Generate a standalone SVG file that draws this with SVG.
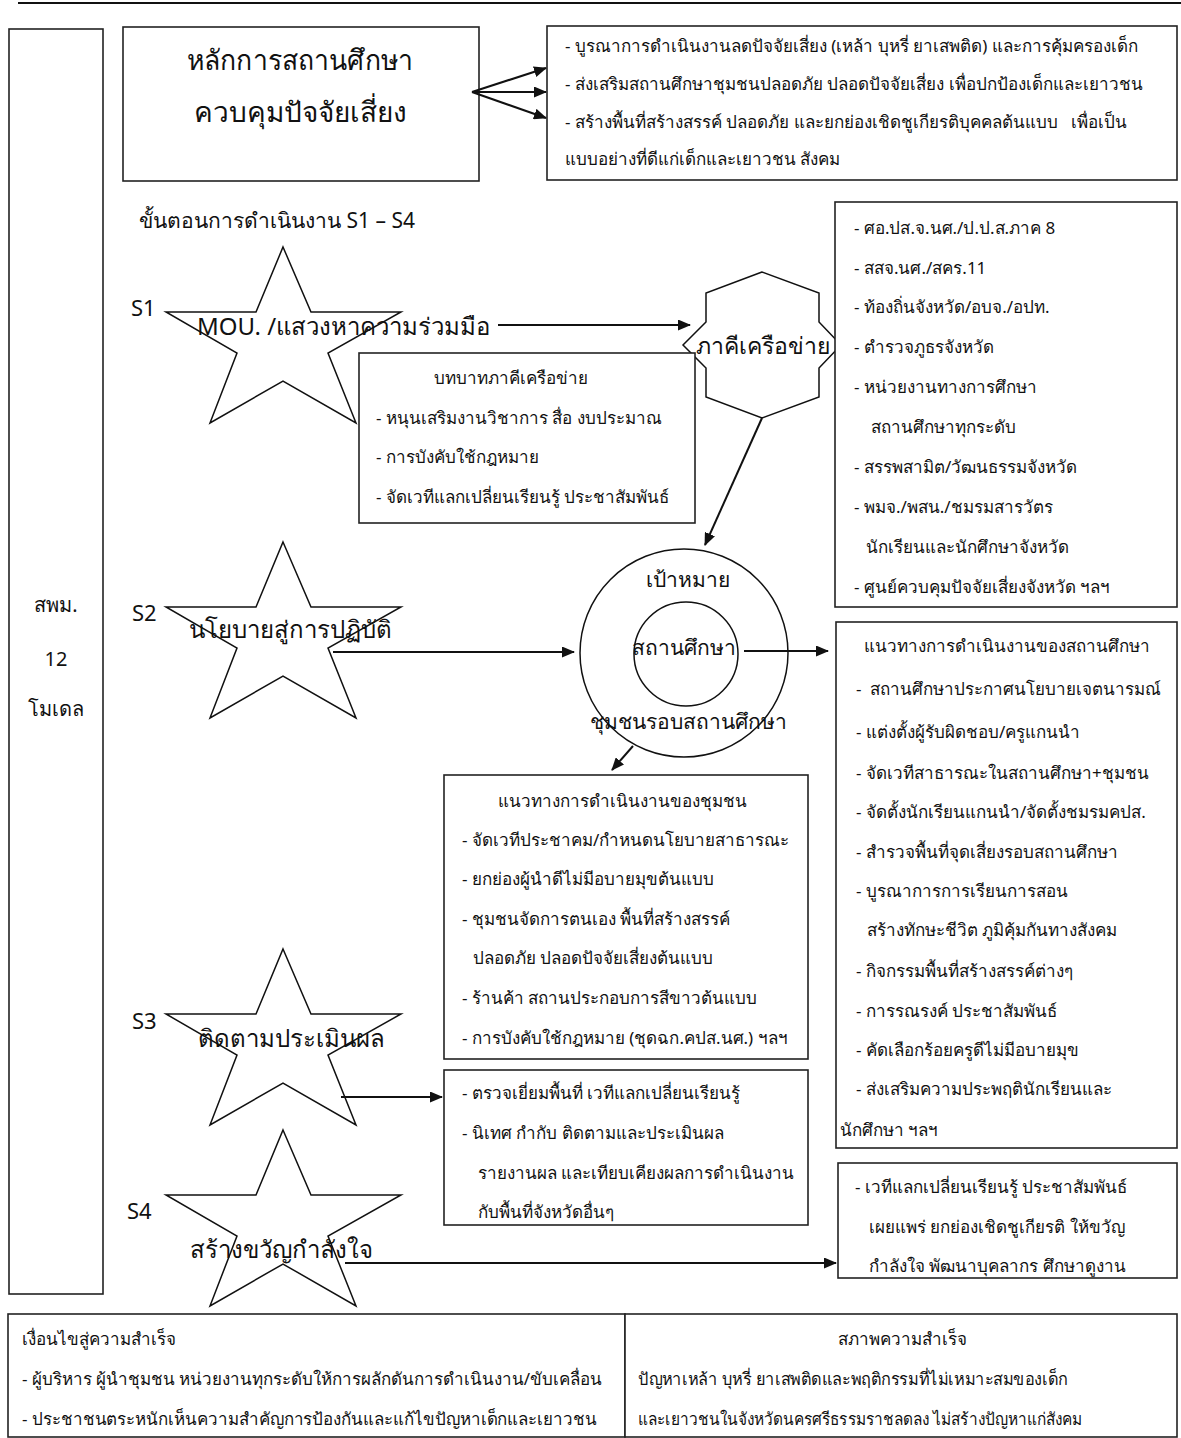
<svg xmlns="http://www.w3.org/2000/svg" width="1181" height="1438" viewBox="0 0 1181 1438">
<style>
.t{font-family:"Noto Sans","DejaVu Sans",sans-serif;fill:#111;white-space:pre}
.b{font-size:17px}
.m{text-anchor:middle}
.box{fill:#fff;stroke:#222;stroke-width:1.6}
.shape{fill:#fff;stroke:#111;stroke-width:1.5}
.c{stroke:#111;stroke-width:2;fill:none;marker-end:url(#ah)}
.lbl{font-size:22px}
.st{font-size:24px}
</style>
<defs>
<marker id="ah" markerWidth="13" markerHeight="11" refX="12" refY="5.5" orient="auto" markerUnits="userSpaceOnUse"><path d="M0,0 L13,5.5 L0,11 z" fill="#111"/></marker>
<polygon id="star" points="283,0 311,65 401,65 328,106 356,176 283,134 210,176 237,106 166,65 256,65"/>
</defs>
<rect width="1181" height="1438" fill="#fff"/>
<line x1="18" y1="3" x2="1181" y2="3" stroke="#111" stroke-width="2"/>

<g id="side">
<rect class="box" x="9" y="29" width="94" height="1265"/>
<text class="t m" x="56" y="612" font-size="20">สพม.</text>
<text class="t m" x="56" y="666" font-size="20">12</text>
<text class="t m" x="56" y="716" font-size="20">โมเดล</text>
</g>

<g id="principle">
<rect class="box" x="123" y="27" width="356" height="154"/>
<text class="t m" x="300" y="70" font-size="28" textLength="226" lengthAdjust="spacingAndGlyphs">หลักการสถานศึกษา</text>
<text class="t m" x="300" y="122" font-size="28">ควบคุมปัจจัยเสี่ยง</text>
</g>

<g id="principle-points">
<rect class="box" x="547" y="26" width="630" height="154"/>
<text class="t b" x="565" y="52">- บูรณาการดำเนินงานลดปัจจัยเสี่ยง (เหล้า บุหรี่ ยาเสพติด) และการคุ้มครองเด็ก</text>
<text class="t b" x="565" y="90">- ส่งเสริมสถานศึกษาชุมชนปลอดภัย ปลอดปัจจัยเสี่ยง เพื่อปกป้องเด็กและเยาวชน</text>
<text class="t b" x="565" y="128">- สร้างพื้นที่สร้างสรรค์ ปลอดภัย และยกย่องเชิดชูเกียรติบุคคลต้นแบบ   เพื่อเป็น</text>
<text class="t b" x="565" y="165">แบบอย่างที่ดีแก่เด็กและเยาวชน สังคม</text>
</g>

<text class="t" x="139" y="228" font-size="21">ขั้นตอนการดำเนินงาน S1 – S4</text>

<g id="s1">
<use href="#star" class="shape" transform="translate(0,247)"/>
<text class="t lbl" x="131" y="316">S1</text>
<text class="t st" x="197" y="335">MOU. /แสวงหาความร่วมมือ</text>
</g>

<g id="s2">
<use href="#star" class="shape" transform="translate(0,542)"/>
<text class="t lbl" x="132" y="621">S2</text>
<text class="t st" x="189" y="638">นโยบายสู่การปฏิบัติ</text>
</g>

<g id="s3">
<use href="#star" class="shape" transform="translate(0,949)"/>
<text class="t lbl" x="132" y="1029">S3</text>
<text class="t st" x="198" y="1047">ติดตามประเมินผล</text>
</g>

<g id="s4">
<use href="#star" class="shape" transform="translate(0,1130)"/>
<text class="t lbl" x="127" y="1219">S4</text>
<text class="t st" x="190" y="1258">สร้างขวัญกำลังใจ</text>
</g>

<g id="network">
<polygon class="shape" points="762,272 706,293 706,322 683,345 706,368 706,397 762,418 819,397 819,368 841,345 819,322 819,293"/>
<text class="t m" x="763" y="354" font-size="23">ภาคีเครือข่าย</text>
</g>

<g id="network-list">
<rect class="box" x="835" y="202" width="342" height="405"/>
<text class="t b" x="854" y="234">- ศอ.ปส.จ.นศ./ป.ป.ส.ภาค 8</text>
<text class="t b" x="854" y="274">- สสจ.นศ./สคร.11</text>
<text class="t b" x="854" y="313">- ท้องถิ่นจังหวัด/อบจ./อปท.</text>
<text class="t b" x="854" y="353">- ตำรวจภูธรจังหวัด</text>
<text class="t b" x="854" y="393">- หน่วยงานทางการศึกษา</text>
<text class="t b" x="871" y="433">สถานศึกษาทุกระดับ</text>
<text class="t b" x="854" y="473">- สรรพสามิต/วัฒนธรรมจังหวัด</text>
<text class="t b" x="854" y="513">- พมจ./พสน./ชมรมสารวัตร</text>
<text class="t b" x="866" y="553">นักเรียนและนักศึกษาจังหวัด</text>
<text class="t b" x="854" y="593">- ศูนย์ควบคุมปัจจัยเสี่ยงจังหวัด ฯลฯ</text>
</g>

<g id="roles">
<rect class="box" x="359" y="353" width="336" height="170"/>
<text class="t b m" x="511" y="384">บทบาทภาคีเครือข่าย</text>
<text class="t b" x="376" y="424">- หนุนเสริมงานวิชาการ สื่อ งบประมาณ</text>
<text class="t b" x="376" y="463">- การบังคับใช้กฎหมาย</text>
<text class="t b" x="376" y="503">- จัดเวทีแลกเปลี่ยนเรียนรู้ ประชาสัมพันธ์</text>
</g>

<g id="target">
<circle cx="684" cy="653" r="104" fill="#fff" stroke="#111" stroke-width="1.5"/>
<circle cx="686" cy="654" r="52" fill="none" stroke="#111" stroke-width="1.5"/>
<text class="t m" x="688" y="587" font-size="21">เป้าหมาย</text>
<text class="t m" x="684" y="655" font-size="21">สถานศึกษา</text>
<text class="t m" x="688" y="729" font-size="21">ชุมชนรอบสถานศึกษา</text>
</g>

<g id="school">
<rect class="box" x="836" y="622" width="341" height="526"/>
<text class="t b m" x="1007" y="652">แนวทางการดำเนินงานของสถานศึกษา</text>
<text class="t b" x="856" y="695">-  สถานศึกษาประกาศนโยบายเจตนารมณ์</text>
<text class="t b" x="856" y="738">- แต่งตั้งผู้รับผิดชอบ/ครูแกนนำ</text>
<text class="t b" x="856" y="779">- จัดเวทีสาธารณะในสถานศึกษา+ชุมชน</text>
<text class="t b" x="856" y="818">- จัดตั้งนักเรียนแกนนำ/จัดตั้งชมรมคปส.</text>
<text class="t b" x="856" y="858">- สำรวจพื้นที่จุดเสี่ยงรอบสถานศึกษา</text>
<text class="t b" x="856" y="897">- บูรณาการการเรียนการสอน</text>
<text class="t b" x="867" y="936">สร้างทักษะชีวิต ภูมิคุ้มกันทางสังคม</text>
<text class="t b" x="856" y="977">- กิจกรรมพื้นที่สร้างสรรค์ต่างๆ</text>
<text class="t b" x="856" y="1017">- การรณรงค์ ประชาสัมพันธ์</text>
<text class="t b" x="856" y="1056">- คัดเลือกร้อยครูดีไม่มีอบายมุข</text>
<text class="t b" x="856" y="1095">- ส่งเสริมความประพฤตินักเรียนและ</text>
<text class="t b" x="840" y="1136">นักศึกษา ฯลฯ</text>
</g>

<g id="community">
<rect class="box" x="444" y="775" width="364" height="284"/>
<text class="t b m" x="622" y="807">แนวทางการดำเนินงานของชุมชน</text>
<text class="t b" x="462" y="846">- จัดเวทีประชาคม/กำหนดนโยบายสาธารณะ</text>
<text class="t b" x="462" y="885">- ยกย่องผู้นำดีไม่มีอบายมุขต้นแบบ</text>
<text class="t b" x="462" y="925">- ชุมชนจัดการตนเอง พื้นที่สร้างสรรค์</text>
<text class="t b" x="473" y="964">ปลอดภัย ปลอดปัจจัยเสี่ยงต้นแบบ</text>
<text class="t b" x="462" y="1004">- ร้านค้า สถานประกอบการสีขาวต้นแบบ</text>
<text class="t b" x="462" y="1044">- การบังคับใช้กฎหมาย (ชุดฉก.คปส.นศ.) ฯลฯ</text>
</g>

<g id="monitor">
<rect class="box" x="444" y="1070" width="364" height="155"/>
<text class="t b" x="462" y="1099">- ตรวจเยี่ยมพื้นที่ เวทีแลกเปลี่ยนเรียนรู้</text>
<text class="t b" x="462" y="1139">- นิเทศ กำกับ ติดตามและประเมินผล</text>
<text class="t b" x="478" y="1179">รายงานผล และเทียบเคียงผลการดำเนินงาน</text>
<text class="t b" x="478" y="1218">กับพื้นที่จังหวัดอื่นๆ</text>
</g>

<g id="morale">
<rect class="box" x="838" y="1163" width="339" height="115"/>
<text class="t b" x="855" y="1193">- เวทีแลกเปลี่ยนเรียนรู้ ประชาสัมพันธ์</text>
<text class="t b" x="869" y="1233">เผยแพร่ ยกย่องเชิดชูเกียรติ ให้ขวัญ</text>
<text class="t b" x="869" y="1272">กำลังใจ พัฒนาบุคลากร ศึกษาดูงาน</text>
</g>

<g id="conditions">
<rect class="box" x="8" y="1314" width="617" height="123"/>
<text class="t b" x="22" y="1345">เงื่อนไขสู่ความสำเร็จ</text>
<text class="t b" x="22" y="1385" textLength="580" lengthAdjust="spacingAndGlyphs">- ผู้บริหาร ผู้นำชุมชน หน่วยงานทุกระดับให้การผลักดันการดำเนินงาน/ขับเคลื่อน</text>
<text class="t b" x="22" y="1425" textLength="575" lengthAdjust="spacingAndGlyphs">- ประชาชนตระหนักเห็นความสำคัญการป้องกันและแก้ไขปัญหาเด็กและเยาวชน</text>
</g>

<g id="success">
<rect class="box" x="625" y="1314" width="552" height="123"/>
<text class="t b m" x="902" y="1345">สภาพความสำเร็จ</text>
<text class="t b" x="638" y="1385" textLength="430" lengthAdjust="spacingAndGlyphs">ปัญหาเหล้า บุหรี่ ยาเสพติดและพฤติกรรมที่ไม่เหมาะสมของเด็ก</text>
<text class="t b" x="638" y="1425" textLength="444" lengthAdjust="spacingAndGlyphs">และเยาวชนในจังหวัดนครศรีธรรมราชลดลง ไม่สร้างปัญหาแก่สังคม</text>
</g>

<g id="connectors">
<line class="c" x1="472" y1="92" x2="546" y2="68"/>
<line class="c" x1="472" y1="92" x2="546" y2="92"/>
<line class="c" x1="472" y1="92" x2="546" y2="118"/>
<line class="c" x1="498" y1="325" x2="690" y2="325"/>
<line class="c" x1="762" y1="418" x2="705" y2="545"/>
<line class="c" x1="333" y1="652" x2="574" y2="652"/>
<line class="c" x1="744" y1="651" x2="828" y2="651"/>
<line class="c" x1="633" y1="746" x2="612" y2="770"/>
<line class="c" x1="341" y1="1097" x2="442" y2="1097"/>
<line class="c" x1="345" y1="1263" x2="836" y2="1263"/>
</g>
</svg>
